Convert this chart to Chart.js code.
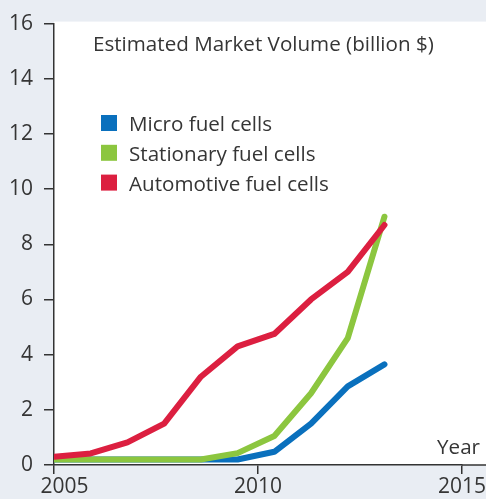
<!DOCTYPE html>
<html>
<head>
<meta charset="utf-8">
<script src="https://cdn.jsdelivr.net/npm/chart.js@4"></script>
<style>
  html, body { margin:0; padding:0; background:#e9edf3; }
  #wrap { width:486px; height:499px; }
</style>
</head>
<body>
<div id="wrap"><canvas id="chart" width="486" height="499"></canvas></div>
<script>
// Données
const years = [2005, 2005.9, 2006.8, 2007.7, 2008.6, 2009.5, 2010.4, 2011.3, 2012.2, 2013.1];
const micro = [0.2, 0.2, 0.2, 0.2, 0.2, 0.2, 0.48, 1.5, 2.85, 3.65];
const stationary = [0.2, 0.2, 0.2, 0.2, 0.2, 0.43, 1.05, 2.6, 4.6, 9.0];
const automotive = [0.3, 0.42, 0.82, 1.5, 3.2, 4.3, 4.75, 6.0, 7.0, 8.7];
const xTicks = [2005, 2010, 2015];
const yTicks = [0, 2, 4, 6, 8, 10, 12, 14, 16];
const seriesLabels = ['Micro fuel cells', 'Stationary fuel cells', 'Automotive fuel cells'];
const seriesColors = ['#0a70bd', '#8cc63f', '#dc1f40'];
const titleText = 'Estimated Market Volume (billion $)';
const xTitle = 'Year';

const FONT = '"Open Sans", Lato, sans-serif';
const TXT = '#353535';

const toPts = vals => vals.map((v, i) => ({ x: years[i], y: v }));

const decor = {
  id: 'decor',
  beforeDraw(chart) {
    const { ctx, chartArea: a, width, height } = chart;
    ctx.save();
    ctx.fillStyle = '#e9edf3';
    ctx.fillRect(0, 0, width, height);
    ctx.fillStyle = '#ffffff';
    ctx.fillRect(a.left, a.top - 2, width - a.left, a.bottom - a.top + 2);
    ctx.restore();
  },
  afterDraw(chart) {
    const { ctx, chartArea: a, width } = chart;
    ctx.save();
    // prolonge l'axe x jusqu'au bord
    ctx.strokeStyle = '#333';
    ctx.lineWidth = 1.5;
    ctx.beginPath();
    ctx.moveTo(a.right, a.bottom);
    ctx.lineTo(width, a.bottom);
    ctx.stroke();

    ctx.fillStyle = TXT;
    ctx.textBaseline = 'alphabetic';
    ctx.font = '20.6px ' + FONT;
    ctx.fillText(titleText, 93, 51);

    seriesLabels.forEach((lab, i) => {
      const base = 131 + i * 29.8;
      ctx.fillStyle = seriesColors[i];
      ctx.fillRect(101, base - 16, 16, 16);
      ctx.fillStyle = TXT;
      ctx.fillText(lab, 129, base);
    });

    ctx.textAlign = 'right';
    ctx.fillText(xTitle, 480, 454);
    ctx.restore();
  }
};

new Chart(document.getElementById('chart'), {
  type: 'line',
  data: {
    datasets: [
      { label: seriesLabels[0], data: toPts(micro), borderColor: seriesColors[0], order: 3 },
      { label: seriesLabels[1], data: toPts(stationary), borderColor: seriesColors[1], order: 2 },
      { label: seriesLabels[2], data: toPts(automotive), borderColor: seriesColors[2], order: 1 }
    ].map(d => Object.assign(d, {
      borderWidth: 6, pointRadius: 0, tension: 0, fill: false,
      borderCapStyle: 'round', borderJoinStyle: 'round'
    }))
  },
  options: {
    responsive: false,
    animation: false,
    devicePixelRatio: 1,
    layout: { padding: { top: 19, right: 24, left: 0, bottom: 0 } },
    plugins: { legend: { display: false }, tooltip: { enabled: false } },
    scales: {
      x: {
        type: 'linear', min: 2005, max: 2015,
        afterBuildTicks: s => { s.ticks = xTicks.map(v => ({ value: v })); },
        afterFit: s => { s.height = 34; },
        border: { display: true, color: '#333', width: 1.5 },
        grid: { drawOnChartArea: false, drawTicks: true, tickLength: 9, color: '#333', lineWidth: 1.5 },
        // le premier libellé est décalé vers la droite dans l'original
        ticks: { color: TXT, font: { family: FONT, size: 21 }, padding: 0, maxRotation: 0,
          callback: (v, i) => i === 0 ? '\u2002\u2002' + v : String(v) }
      },
      y: {
        min: 0, max: 16,
        afterBuildTicks: s => { s.ticks = yTicks.map(v => ({ value: v })); },
        afterFit: s => { s.width = 54; },
        border: { display: true, color: '#333', width: 1.5 },
        grid: { drawOnChartArea: false, drawTicks: true, tickLength: 10, color: '#333', lineWidth: 1.5 },
        ticks: { color: TXT, font: { family: FONT, size: 21 }, padding: 11 }
      }
    }
  },
  plugins: [decor]
});
</script>
</body>
</html>
